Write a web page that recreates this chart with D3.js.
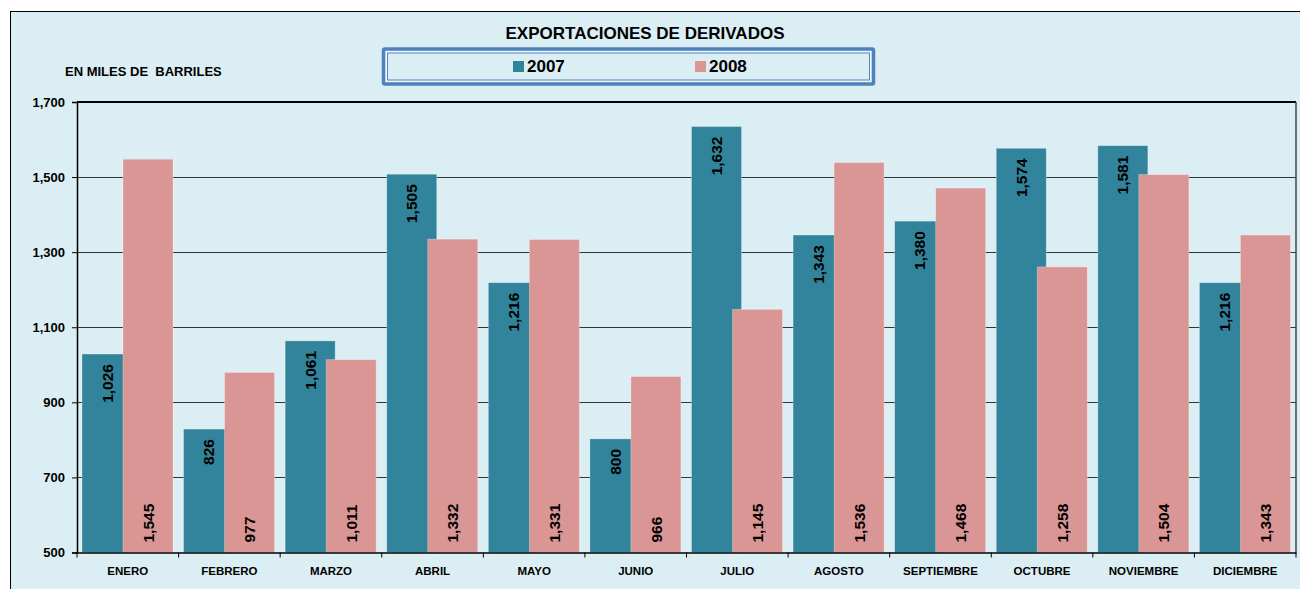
<!DOCTYPE html>
<html>
<head>
<meta charset="utf-8">
<script src="https://cdn.jsdelivr.net/npm/d3@7"></script>
<style>
  body { margin: 0; background: #fff; }
  text { font-family: "Liberation Sans", Arial, sans-serif; font-weight: bold; fill: #000; }
</style>
</head>
<body>
<svg id="chart" width="1300" height="589"></svg>
<script>
const months = ["ENERO", "FEBRERO", "MARZO", "ABRIL", "MAYO", "JUNIO", "JULIO", "AGOSTO", "SEPTIEMBRE", "OCTUBRE", "NOVIEMBRE", "DICIEMBRE"];
const years = ["2007", "2008"];
const values2007 = [1026, 826, 1061, 1505, 1216, 800, 1632, 1343, 1380, 1574, 1581, 1216];
const values2008 = [1545, 977, 1011, 1332, 1331, 966, 1145, 1536, 1468, 1258, 1504, 1343];
const yTicks = [500, 700, 900, 1100, 1300, 1500, 1700];

const colors = { "2007": "#31849b", "2008": "#da9694" };

const svg = d3.select("#chart");
const fmt = d3.format(",");

// fondo
svg.append("rect")
  .attr("x", 10.5).attr("y", 11.5)
  .attr("width", 1300).attr("height", 600)
  .attr("fill", "#dbeef4")
  .attr("stroke", "#000");

const plotLeft = 77, plotRight = 1296, plotTop = 102, plotBottom = 552.5;

const x = d3.scaleBand().domain(months).range([plotLeft, plotRight]);
const y = d3.scaleLinear().domain([500, 1700]).range([plotBottom, plotTop]);
const barW = 50;
const offset = d3.scaleOrdinal().domain(years).range([5, 46]);

// rejilla
svg.append("g")
  .selectAll("line")
  .data(yTicks.slice(1))
  .join("line")
  .attr("x1", plotLeft).attr("x2", plotRight)
  .attr("y1", d => y(d)).attr("y2", d => y(d))
  .attr("stroke", d => d === 1700 ? "#000" : "#333")
  .attr("stroke-width", d => d === 1700 ? 1.5 : 1)
  .attr("shape-rendering", "crispEdges");

svg.append("line")
  .attr("x1", plotRight).attr("x2", plotRight)
  .attr("y1", plotTop).attr("y2", plotBottom)
  .attr("stroke", "#444").attr("stroke-width", 1.5);

// barras
const series = [
  { year: "2007", values: values2007 },
  { year: "2008", values: values2008 }
];

series.forEach(s => {
  svg.append("g")
    .selectAll("rect")
    .data(s.values)
    .join("rect")
    .attr("x", (d, i) => x(months[i]) + offset(s.year))
    .attr("y", d => y(d) - 1)
    .attr("width", barW)
    .attr("height", d => plotBottom - y(d) + 1)
    .attr("fill", colors[s.year])
    .attr("stroke", "rgba(255,255,255,0.35)")
    .attr("stroke-width", 0.8);
});

// etiquetas 2007 (arriba, dentro)
svg.append("g")
  .selectAll("text")
  .data(values2007)
  .join("text")
  .attr("transform", (d, i) => `translate(${x(months[i]) + offset("2007") + barW / 2},${y(d) + 9}) rotate(-90)`)
  .attr("dy", "0.36em")
  .attr("text-anchor", "end")
  .style("font-size", "15.5px")
  .text(d => fmt(d));

// etiquetas 2008 (base)
svg.append("g")
  .selectAll("text")
  .data(values2008)
  .join("text")
  .attr("transform", (d, i) => `translate(${x(months[i]) + offset("2008") + barW / 2},${plotBottom - 10}) rotate(-90)`)
  .attr("dy", "0.36em")
  .attr("text-anchor", "start")
  .style("font-size", "15.5px")
  .text(d => fmt(d));

// eje Y
const yAxis = svg.append("g")
  .attr("transform", `translate(${plotLeft},0)`)
  .call(d3.axisLeft(y).tickValues(yTicks).tickFormat(fmt).tickSize(5).tickPadding(7));
yAxis.select(".domain").attr("stroke", "#000").attr("stroke-width", 1.5);
yAxis.selectAll(".tick line").attr("stroke", "#000");
yAxis.selectAll("text").style("font-size", "13px").style("font-family", "Liberation Sans, Arial, sans-serif");

// eje X
const xAxis = svg.append("g")
  .attr("transform", `translate(0,${plotBottom})`)
  .call(d3.axisBottom(x).tickSize(0).tickPadding(14));
xAxis.select(".domain").attr("stroke", "#000").attr("stroke-width", 1.5);
xAxis.selectAll("text").style("font-size", "11.5px").style("font-family", "Liberation Sans, Arial, sans-serif");
xAxis.selectAll(".sep")
  .data(months.concat(["_end"]))
  .join("line")
  .attr("x1", (d, i) => plotLeft + i * x.bandwidth())
  .attr("x2", (d, i) => plotLeft + i * x.bandwidth())
  .attr("y1", 0).attr("y2", 5)
  .attr("stroke", "#000");

// titulo
svg.append("text")
  .attr("x", 645).attr("y", 39)
  .attr("text-anchor", "middle")
  .style("font-size", "17px")
  .text("EXPORTACIONES DE DERIVADOS");

svg.append("text")
  .attr("x", 65).attr("y", 76)
  .style("font-size", "13px")
  .style("white-space", "pre")
  .text("EN MILES DE  BARRILES");

// leyenda
const lg = svg.append("g");
lg.append("rect")
  .attr("x", 383.5).attr("y", 49).attr("width", 490).attr("height", 35)
  .attr("rx", 1.5)
  .attr("fill", "none").attr("stroke", "#4f81bd").attr("stroke-width", 3.5);
lg.append("rect")
  .attr("x", 386.5).attr("y", 52).attr("width", 484).attr("height", 29)
  .attr("fill", "none").attr("stroke", "#fff").attr("stroke-width", 1);
lg.append("rect")
  .attr("x", 387.5).attr("y", 53).attr("width", 482).attr("height", 27)
  .attr("fill", "none").attr("stroke", "#4f81bd").attr("stroke-width", 1);

const legendX = d3.scaleOrdinal().domain(years).range([513, 695]);
years.forEach(yr => {
  lg.append("rect")
    .attr("x", legendX(yr)).attr("y", 61)
    .attr("width", 11).attr("height", 11)
    .attr("fill", colors[yr]);
  lg.append("text")
    .attr("x", legendX(yr) + 14).attr("y", 72)
    .style("font-size", "17px")
    .text(yr);
});
</script>
</body>
</html>
